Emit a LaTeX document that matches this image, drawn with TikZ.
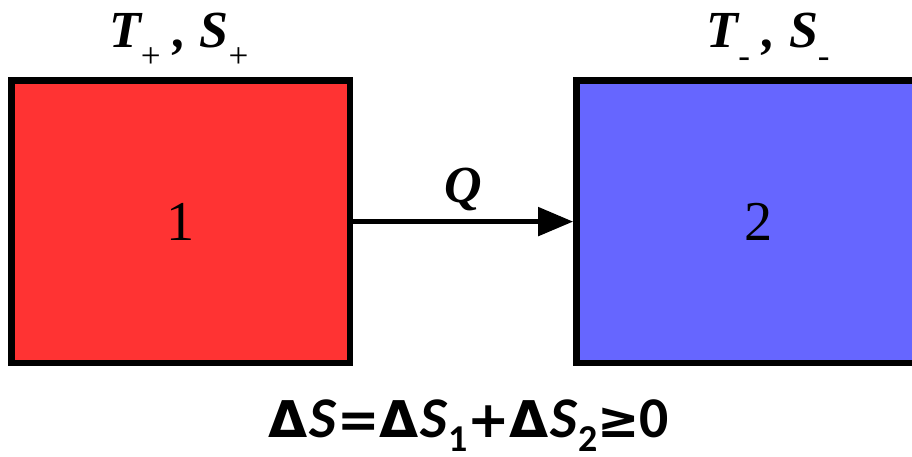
\documentclass[tikz,border=0pt]{standalone}
\usepackage{fontspec}
\setmainfont{Liberation Serif}
\newfontfamily\formulafont{Carlito}
\newfontfamily\opfont{DejaVu Sans}
\usetikzlibrary{positioning,arrows.meta}
\definecolor{hotred}{HTML}{FF3333}
\definecolor{coldblue}{HTML}{6666FF}
\newcommand{\idx}[1]{\raisebox{-14pt}{\fontsize{25}{25}\selectfont\mdseries\upshape #1}}
\newcommand{\fidx}[1]{\raisebox{-0.24em}{\fontsize{27}{27}\selectfont\upshape #1}}
\newcommand{\op}[1]{{\opfont\fontsize{36}{36}\selectfont #1}}
\tikzset{
  body/.style={draw, line width=4.6pt, minimum width=8.46cm, minimum height=7.06cm, font=\fontsize{40}{40}\selectfont},
  state/.style={inner sep=0pt, font=\fontsize{37}{37}\selectfont\bfseries\itshape},
}
\begin{document}
\begin{tikzpicture}[node distance=5.5cm]
\useasboundingbox (0,0) rectangle (22.8,11.4);
\clip (0,0) rectangle (22.8,11.4);
\node[body, fill=hotred] (box1) at (4.52,5.86) {1};
\node[body, fill=coldblue, minimum width=9.08cm] (box2) [right=of box1] {2};
\node[state] (state1) [above=0.73cm of box1, anchor=base, xshift=-0.05cm] {T\idx{+} , S\idx{+}};
\node[state] (state2) [above=0.73cm of box2, anchor=base, xshift=0.25cm] {T\idx{-} , S\idx{-}};
\draw[-{Triangle[length=0.88cm, width=0.7cm]}, line width=3.9pt] (box1) -- (box2)
  node[state, midway, above=0.2cm] (heat) {Q};
\node[anchor=base, inner sep=0pt, font=\formulafont\fontsize{41}{41}\selectfont\bfseries] (total) at (11.72,0.45)
  {\op{Δ}\kern1.5pt\textit{S}\op{=}\op{Δ}\kern1.5pt\textit{S}\fidx{1}\op{+}\op{Δ}\kern1.5pt\textit{S}\fidx{2}\op{≥}0};
\end{tikzpicture}
\end{document}
